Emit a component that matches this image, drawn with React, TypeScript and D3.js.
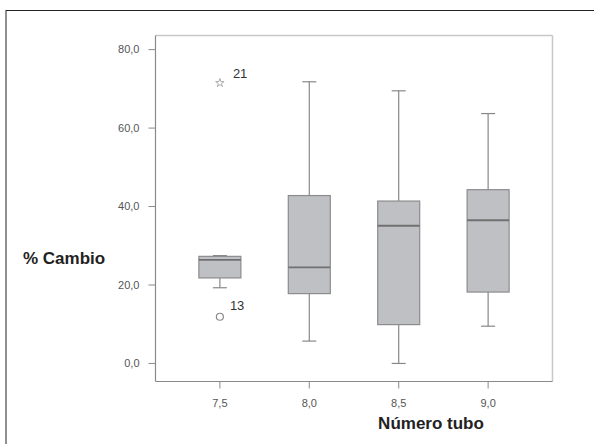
import React from "react";
import * as d3 from "d3";

const categories = ["7,5", "8,0", "8,5", "9,0"];
const q1 = [21.8, 17.8, 9.9, 18.2];
const medians = [26.4, 24.5, 35.1, 36.5];
const q3 = [27.3, 42.8, 41.4, 44.3];
const whiskerLow = [19.3, 5.7, 0.0, 9.5];
const whiskerHigh = [27.5, 71.8, 69.5, 63.7];
const yTicks = [0, 20, 40, 60, 80];
const outliers = [
  { cat: "7,5", value: 11.9, label: "13", symbol: "circle" },
  { cat: "7,5", value: 71.5, label: "21", symbol: "star" },
];

export default function App() {
  const W = 594, H = 444;
  const left = 155.5, right = 552.5, top = 35.5, bottom = 381.5;
  const x = d3.scalePoint<string>().domain(categories).range([left, right]).padding(0.72);
  const y = d3.scaleLinear().domain([-4.6, 83.6]).range([bottom, top]);
  const boxW = 42;
  const star = d3.symbol().type(d3.symbolStar).size(22)();
  const font = "Arial, 'Liberation Sans', sans-serif";
  return (
    <svg width={W} height={H} style={{ position: "absolute", left: 0, top: 0, background: "#fff" }}>
      <rect x={6} y={10.5} width={700} height={600} fill="#fff" stroke="#222" strokeWidth={1} />
      <line x1={left} x2={right} y1={top} y2={top} stroke="#c8c8c8" strokeWidth={1.5} />
      <line x1={right} x2={right} y1={top} y2={bottom} stroke="#c8c8c8" strokeWidth={1.5} />
      <line x1={left} x2={left} y1={top} y2={bottom} stroke="#8a8a8a" strokeWidth={1.2} />
      <line x1={left} x2={right} y1={bottom} y2={bottom} stroke="#8a8a8a" strokeWidth={1.2} />
      {yTicks.map((t) => (
        <g key={t}>
          <line x1={left - 7} x2={left} y1={y(t)} y2={y(t)} stroke="#8a8a8a" />
          <text x={left - 16} y={y(t)} dy="0.35em" textAnchor="end" fontSize={11} fill="#555" fontFamily={font}>
            {t.toFixed(1).replace(".", ",")}
          </text>
        </g>
      ))}
      {categories.map((c) => (
        <g key={c}>
          <line x1={x(c)!} x2={x(c)!} y1={bottom} y2={bottom + 7} stroke="#8a8a8a" />
          <text x={x(c)!} y={bottom + 25} textAnchor="middle" fontSize={11} fill="#555" fontFamily={font}>
            {c}
          </text>
        </g>
      ))}
      {categories.map((c, i) => {
        const cx = x(c)!;
        return (
          <g key={"b" + c}>
            <line x1={cx} x2={cx} y1={y(whiskerHigh[i])} y2={y(q3[i])} stroke="#888" strokeWidth={1.2} />
            <line x1={cx} x2={cx} y1={y(q1[i])} y2={y(whiskerLow[i])} stroke="#888" strokeWidth={1.2} />
            <line x1={cx - 7} x2={cx + 7} y1={y(whiskerHigh[i])} y2={y(whiskerHigh[i])} stroke="#888" strokeWidth={1.2} />
            <line x1={cx - 7} x2={cx + 7} y1={y(whiskerLow[i])} y2={y(whiskerLow[i])} stroke="#888" strokeWidth={1.2} />
            <rect x={cx - boxW / 2} y={y(q3[i])} width={boxW} height={y(q1[i]) - y(q3[i])} fill="#bfc0c4" stroke="#8c8c8c" strokeWidth={1.2} />
            <line x1={cx - boxW / 2} x2={cx + boxW / 2} y1={y(medians[i])} y2={y(medians[i])} stroke="#707070" strokeWidth={1.8} />
          </g>
        );
      })}
      {outliers.map((o) => {
        const cx = x(o.cat)!;
        const cy = y(o.value);
        return (
          <g key={o.label}>
            {o.symbol === "circle" ? (
              <circle cx={cx} cy={cy} r={3.5} fill="none" stroke="#888" strokeWidth={1.2} />
            ) : (
              <path d={star!} transform={`translate(${cx},${cy})`} fill="none" stroke="#999" strokeWidth={0.8} />
            )}
            <text x={cx + (o.symbol === "circle" ? 10 : 13)} y={cy - (o.symbol === "circle" ? 7 : 5)} fontSize={13} fill="#333" fontFamily={font}>
              {o.label}
            </text>
          </g>
        );
      })}
      <text x={23} y={264} fontSize={17} fontWeight="bold" fill="#222" fontFamily={font}>% Cambio</text>
      <text x={431} y={429} textAnchor="middle" fontSize={17} fontWeight="bold" fill="#222" fontFamily={font}>Número tubo</text>
    </svg>
  );
}
